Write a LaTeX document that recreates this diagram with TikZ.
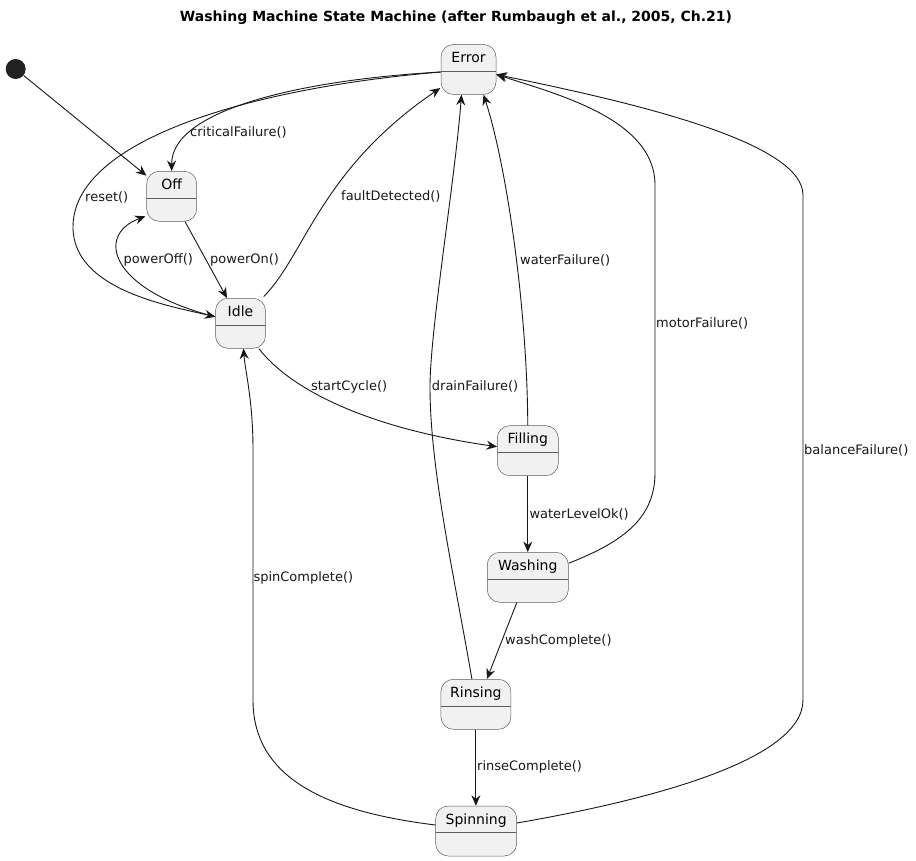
\documentclass[tikz,border=0pt]{standalone}
\usepackage{fontspec}
\setmainfont{DejaVu Sans}
\usetikzlibrary{arrows.meta}
\definecolor{boxfill}{HTML}{F1F1F1}
\definecolor{ink}{HTML}{181818}
\definecolor{dotc}{HTML}{222222}
\begin{document}
\begin{tikzpicture}[x=1pt,y=-1pt,
  state/.style={draw=ink!70, line width=0.5pt, fill=boxfill, rounded corners=12.5pt,
    inner sep=0pt, text height=18pt, text depth=32pt, font=\fontsize{14}{16}\selectfont,
    path picture={\draw[ink!70, line width=0.5pt] ([yshift=-26.5pt]path picture bounding box.north west) -- ([yshift=-26.5pt]path picture bounding box.north east);}},
  lbl/.style={anchor=west, inner sep=0pt, font=\fontsize{13}{15}\selectfont, text=ink},
  tr/.style={draw=ink, line width=0.9pt, -{Stealth[length=10.5pt,width=9pt,inset=3.5pt]}},
  initdot/.style={circle, fill=dotc, inner sep=0pt, minimum size=20pt}]
\useasboundingbox[fill=white] (0,0) rectangle (916,861);

\node[font=\fontsize{14}{16}\selectfont\bfseries] (title) at (456,18) {Washing Machine State Machine (after Rumbaugh et al., 2005, Ch.21)};

\node[initdot] (init) at (15.7,69) {};
\node[state, minimum width=55pt] (error) at (468.5,69.5) {Error};
\node[state, minimum width=50pt] (off) at (171.7,196.3) {Off};
\node[state, minimum width=50pt] (idle) at (240.5,323.3) {Idle};
\node[state, minimum width=61pt] (filling) at (527.8,450.7) {Filling};
\node[state, minimum width=81pt] (washing) at (527.8,577.3) {Washing};
\node[state, minimum width=70pt] (rinsing) at (475.9,704.3) {Rinsing};
\node[state, minimum width=81pt] (spinning) at (476.2,831) {Spinning};

% initial
\draw[tr] (init) -- (off);
% criticalFailure
\draw[tr] ([yshift=-2.5pt]error.west) .. controls (300,80) and (171,110) .. (off.north);
% reset
\draw[tr] ([yshift=-2.5pt]error.west) .. controls (250,88) and (73,140) .. (73,227)
  .. controls (73,290) and (170,306) .. ([yshift=6.5pt]idle.west);
% powerOff
\draw[tr] ([yshift=6.5pt]idle.west) .. controls (110,290) and (95,235) .. ([xshift=-1pt,yshift=-20pt]off.west);
% powerOn
\draw[tr] ([xshift=13.3pt]off.south) -- ([xshift=-13.5pt]idle.north);
% faultDetected
\draw[tr] ([xshift=-2pt,yshift=1.5pt]idle.north east) .. controls (305,255) and (320,170) .. ([xshift=-0.5pt,yshift=6.7pt]error.south west);
% startCycle
\draw[tr] ([xshift=-7pt]idle.south east) .. controls (295,395) and (380,430) .. ([yshift=4pt]filling.west);
% waterFailure
\draw[tr] (filling.north) .. controls (527,300) and (505,160) .. ([xshift=15pt]error.south);
% waterLevelOk
\draw[tr] (filling.south) -- (washing.north);
% motorFailure
\draw[tr] ([yshift=14pt]washing.east) .. controls (620,543) and (655,520) .. (655,473) -- (655,185)
  .. controls (655,120) and (560,95) .. ([yshift=-5pt]error.east);
% washComplete
\draw[tr] ([xshift=-11pt]washing.south) -- ([xshift=11pt]rinsing.north);
% drainFailure
\draw[tr] ([xshift=-4pt]rinsing.north) .. controls (455,580) and (430,470) .. (430,387)
  .. controls (430,330) and (455,180) .. ([xshift=-7pt]error.south);
% rinseComplete
\draw[tr] (rinsing.south) -- (rinsing.south |- spinning.north);
% spinComplete
\draw[tr] ([yshift=6pt]spinning.west) .. controls (330,812) and (253,780) .. (253,700) -- (253,450)
  .. controls (253,400) and (245,370) .. ([xshift=3pt]idle.south);
% balanceFailure
\draw[tr] ([yshift=8pt]spinning.east) .. controls (650,800) and (803,760) .. (803,700) -- (803,195)
  .. controls (803,140) and (620,100) .. ([yshift=-5pt]error.east);

% labels
\node[lbl] (l1) at (190,132) {criticalFailure()};
\node[lbl] (l2) at (85,197) {reset()};
\node[lbl] (l3) at (123.3,260) {powerOff()};
\node[lbl] (l4) at (210,260) {powerOn()};
\node[lbl] (l5) at (341,196) {faultDetected()};
\node[lbl] (l6) at (311,386.7) {startCycle()};
\node[lbl] (l7) at (431.7,386.7) {drainFailure()};
\node[lbl] (l8) at (520,260) {waterFailure()};
\node[lbl] (l9) at (656,323.3) {motorFailure()};
\node[lbl] (l10) at (529.3,514) {waterLevelOk()};
\node[lbl] (l11) at (253.3,578.3) {spinComplete()};
\node[lbl] (l12) at (505,640.7) {washComplete()};
\node[lbl] (l13) at (477,767) {rinseComplete()};
\node[lbl] (l14) at (804,450) {balanceFailure()};
\end{tikzpicture}
\end{document}
